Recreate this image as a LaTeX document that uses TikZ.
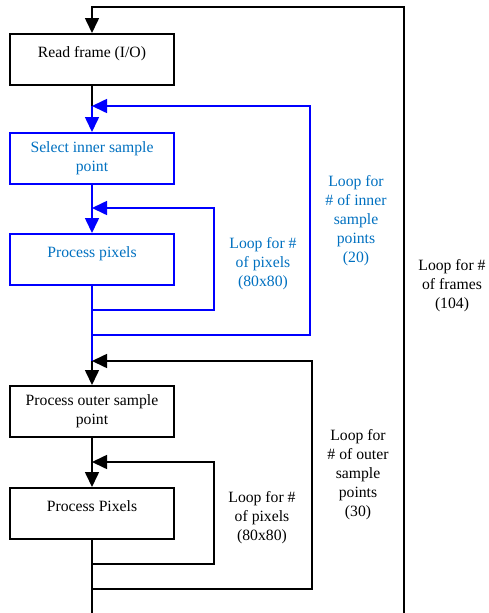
\documentclass[tikz,border=0pt]{standalone}
\usepackage{fontspec}
\setmainfont{Liberation Serif}
\usepackage{tikz}
\usetikzlibrary{arrows.meta}
\definecolor{loopblue}{RGB}{0, 0, 255}
\definecolor{looptext}{RGB}{0, 112, 192}

\begin{document}
\begin{tikzpicture}[x=1pt, y=-1pt,
    every node/.style={font=\fontsize{15.7}{19}\selectfont},
    stage/.style={draw, line width=2pt, minimum width=164pt, minimum height=51pt,
      align=center, anchor=north},
    stageone/.style={stage, inner ysep=0pt, text height=22pt, text depth=27pt},
    arr/.style={-{Triangle[length=15pt, width=14pt]}},
    wire/.style={line width=1.6pt}]
  \useasboundingbox (0,0) rectangle (488,613);
  % boxes
  \node[stageone] (read) at (92,33) {Read frame (I/O)};
  \node[stage, draw=loopblue, text=looptext] (inner) at (92,132) {Select inner sample\\point};
  \node[stageone, draw=loopblue, text=looptext] (pixa) at (92,233) {Process pixels};
  \node[stage] (outer) at (92,385) {Process outer sample\\point};
  \node[stageone] (pixb) at (92,487) {Process Pixels};
  % junctions on the main line
  \coordinate (j1) at (92,106);
  \coordinate (j2) at (92,208);
  \coordinate (j3) at (92,361);
  \coordinate (j4) at (92,462);
  \coordinate (top) at (92,7);
  \coordinate (bot) at (92,613);
  % main line
  \draw[wire] (read.south) -- (j1);
  \draw[wire, loopblue, arr] (j1) -- (inner.north);
  \draw[wire, loopblue] (inner.south) -- (j2);
  \draw[wire, loopblue, arr] (j2) -- (pixa.north);
  \draw[wire, loopblue] (pixa.south) -- (j3);
  \draw[wire, arr] (j3) -- (outer.north);
  \draw[wire] (outer.south) -- (j4);
  \draw[wire, arr] (j4) -- (pixb.north);
  \draw[wire] (pixb.south) -- (bot);
  % loops
  \draw[wire, loopblue, arr] (92,310) -- (214,310) -- (214,208) -- (j2);
  \draw[wire, loopblue, arr] (92,335) -- (310,335) -- (310,106) -- (j1);
  \draw[wire, arr] (92,564) -- (214,564) -- (214,462) -- (j4);
  \draw[wire, arr] (92,589) -- (312,589) -- (312,361) -- (j3);
  \draw[wire, arr] (404,613) -- (404,7) -- (top) -- (read.north);
  % loop labels
  \node[align=center, text=looptext] (lpa) at (263,264) {Loop for \#\\of pixels\\(80x80)};
  \node[align=center, text=looptext] (lin) at (356,221) {Loop for\\\# of inner\\sample\\points\\(20)};
  \node[align=center] (lfr) at (452,286) {Loop for \#\\of frames\\(104)};
  \node[align=center] (lout) at (358,475) {Loop for\\\# of outer\\sample\\points\\(30)};
  \node[align=center] (lpb) at (262,518) {Loop for \#\\of pixels\\(80x80)};
\end{tikzpicture}
\end{document}
